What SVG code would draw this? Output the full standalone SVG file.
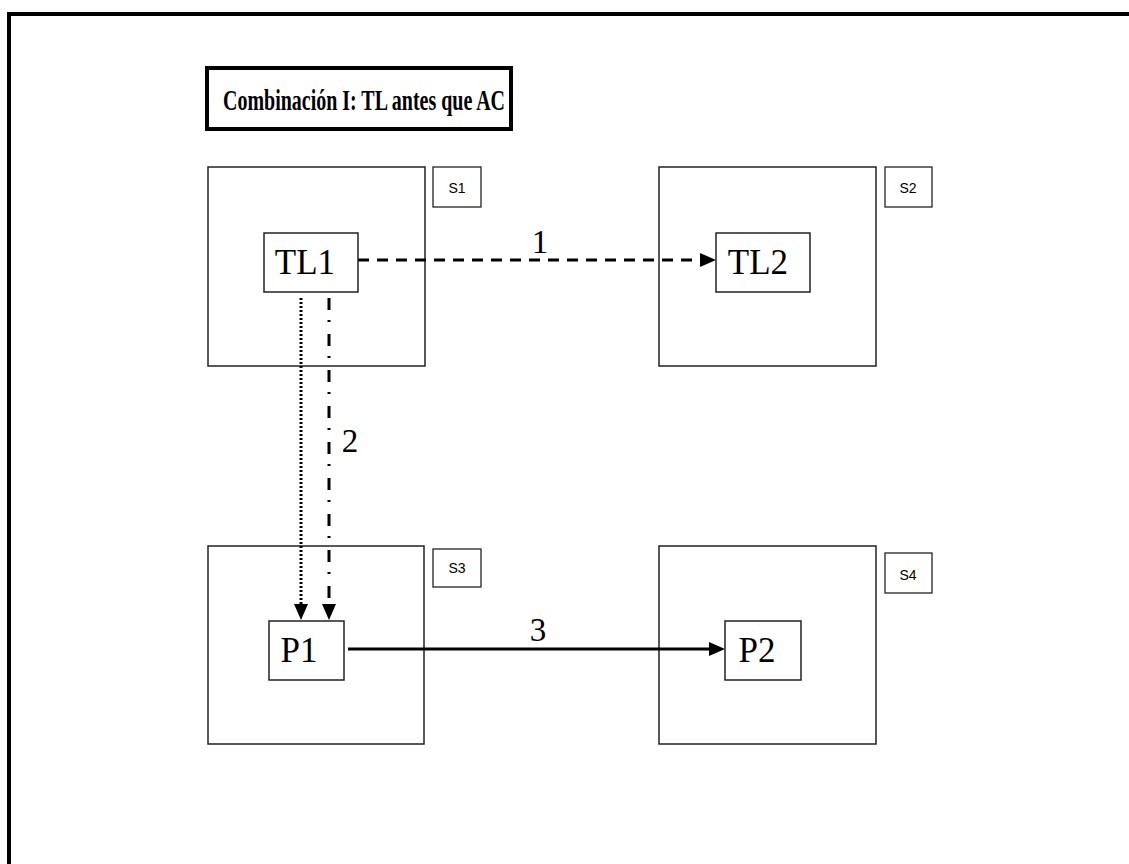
<svg xmlns="http://www.w3.org/2000/svg" width="1129" height="864" viewBox="0 0 1129 864">
<defs>
<style>
.frame{fill:none;stroke:#000;stroke-width:4}
.site{fill:#fff;stroke:#222;stroke-width:1.5}
.tag{fill:#fff;stroke:#222;stroke-width:1.3}
.node{fill:#fff;stroke:#222;stroke-width:1.5}
.ntext{font-family:"Liberation Serif",serif;font-size:35px;fill:#000;text-anchor:middle}
.stext{font-family:"Liberation Sans",sans-serif;font-size:14px;fill:#000;text-anchor:middle}
.ltext{font-family:"Liberation Serif",serif;font-size:33px;fill:#000;text-anchor:middle}
.conn{fill:none;stroke:#000;stroke-width:3}
</style>
<marker id="ah" markerUnits="userSpaceOnUse" markerWidth="18" markerHeight="16" refX="2" refY="7" orient="auto">
<path d="M0,0 L16,7 L0,14 z" fill="#000"/>
</marker>
</defs>
<rect width="1129" height="864" fill="#fff"/>
<rect class="frame" x="9" y="14" width="1140" height="880"/>
<g id="title">
<rect x="207" y="68" width="304" height="61" fill="#fff" stroke="#000" stroke-width="4"/>
<text transform="translate(223,110) scale(1,1.45)" x="0" y="0" font-family="Liberation Serif, serif" font-weight="bold" font-size="21" textLength="282" lengthAdjust="spacingAndGlyphs">Combinación I: TL antes que AC</text>
</g>
<g id="S1">
<rect class="site" x="208" y="167" width="217" height="199"/>
<rect class="tag" x="433" y="167" width="48" height="40"/>
<text class="stext" x="457" y="193">S1</text>
</g>
<g id="S2">
<rect class="site" x="659" y="167" width="217" height="199"/>
<rect class="tag" x="885" y="167" width="47" height="40"/>
<text class="stext" x="908" y="193">S2</text>
</g>
<g id="S3">
<rect class="site" x="208" y="546" width="216" height="198"/>
<rect class="tag" x="433" y="549" width="48" height="38"/>
<text class="stext" x="457" y="573">S3</text>
</g>
<g id="S4">
<rect class="site" x="659" y="546" width="217" height="198"/>
<rect class="tag" x="885" y="553" width="47" height="40"/>
<text class="stext" x="908" y="580">S4</text>
</g>
<g id="connectors">
<line class="conn" x1="358" y1="260" x2="702" y2="260" stroke-dasharray="11 8" marker-end="url(#ah)"/>
<line class="conn" x1="301" y1="298" x2="301" y2="606" stroke-dasharray="2 2" marker-end="url(#ah)"/>
<line class="conn" x1="329" y1="298" x2="329" y2="606" stroke-dasharray="12 10 2 12" marker-end="url(#ah)"/>
<line class="conn" x1="348" y1="649" x2="711" y2="649" marker-end="url(#ah)"/>
<text class="ltext" x="540" y="253">1</text>
<text class="ltext" x="350" y="452">2</text>
<text class="ltext" x="538" y="641">3</text>
</g>
<g id="TL1">
<rect class="node" x="264" y="233" width="94" height="59"/>
<text class="ntext" x="305" y="274">TL1</text>
</g>
<g id="TL2">
<rect class="node" x="716" y="233" width="94" height="59"/>
<text class="ntext" x="758" y="274">TL2</text>
</g>
<g id="P1">
<rect class="node" x="269" y="621" width="75" height="59"/>
<text class="ntext" x="299" y="662">P1</text>
</g>
<g id="P2">
<rect class="node" x="725" y="621" width="76" height="59"/>
<text class="ntext" x="757" y="662">P2</text>
</g>
</svg>
